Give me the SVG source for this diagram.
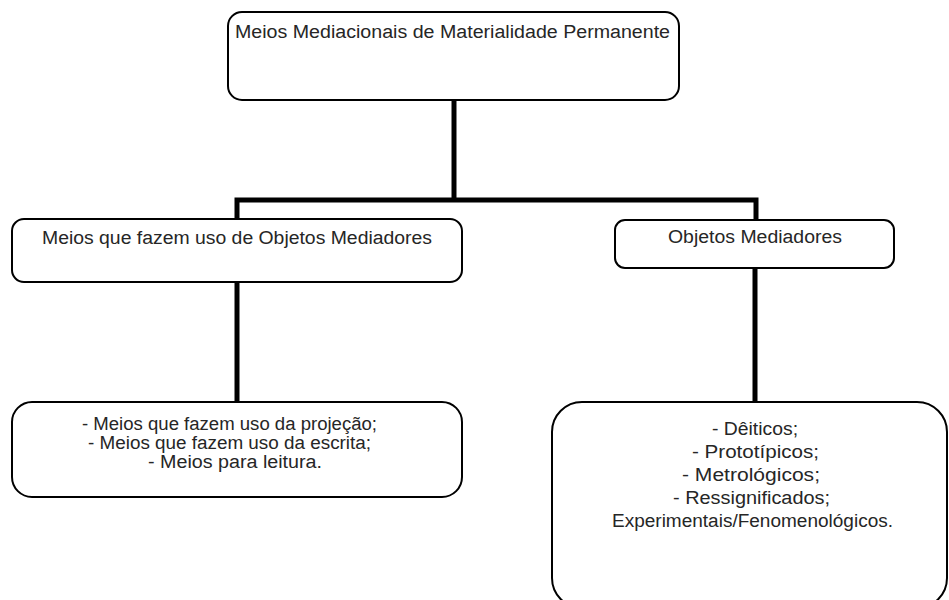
<svg xmlns="http://www.w3.org/2000/svg" width="949" height="600" viewBox="0 0 949 600">
<style>
.box{fill:#fff;stroke:#000;stroke-width:2}
.con{fill:none;stroke:#000;stroke-width:5;stroke-linecap:butt;stroke-linejoin:miter}
text{font-family:"Liberation Sans","DejaVu Sans",sans-serif;font-size:18px;fill:#262626}
</style>
<rect width="949" height="600" fill="#fff"/>
<g id="connectors">
<polyline class="con" points="454,100 454,200"/>
<polyline class="con" points="237,220 237,200 756,200 756,220"/>
<polyline class="con" points="237,282 237,402"/>
<polyline class="con" points="755,268 755,402"/>
</g>
<g id="n-root">
<rect class="box" x="228" y="12" width="451" height="88" rx="14"/>
<text x="235" y="38" textLength="435" lengthAdjust="spacingAndGlyphs">Meios Mediacionais de Materialidade Permanente</text>
</g>
<g id="n-left">
<rect class="box" x="12" y="219" width="450" height="63" rx="12"/>
<text x="42" y="244" textLength="390" lengthAdjust="spacingAndGlyphs">Meios que fazem uso de Objetos Mediadores</text>
</g>
<g id="n-right">
<rect class="box" x="615" y="220" width="279" height="48" rx="10"/>
<text x="668" y="243" textLength="174" lengthAdjust="spacingAndGlyphs">Objetos Mediadores</text>
</g>
<g id="n-left-list">
<rect class="box" x="12" y="402" width="450" height="95" rx="20"/>
<text x="82" y="430" textLength="295" lengthAdjust="spacingAndGlyphs">- Meios que fazem uso da projeção;</text>
<text x="88" y="449" textLength="283" lengthAdjust="spacingAndGlyphs">- Meios que fazem uso da escrita;</text>
<text x="148" y="468" textLength="174" lengthAdjust="spacingAndGlyphs">- Meios para leitura.</text>
</g>
<g id="n-right-list">
<rect class="box" x="552" y="402" width="395" height="206" rx="30"/>
<text x="712" y="435" textLength="86" lengthAdjust="spacingAndGlyphs">- Dêiticos;</text>
<text x="692" y="458" textLength="127" lengthAdjust="spacingAndGlyphs">- Prototípicos;</text>
<text x="682" y="481" textLength="138" lengthAdjust="spacingAndGlyphs">- Metrológicos;</text>
<text x="673" y="504" textLength="157" lengthAdjust="spacingAndGlyphs">- Ressignificados;</text>
<text x="612" y="527" textLength="281" lengthAdjust="spacingAndGlyphs">Experimentais/Fenomenológicos.</text>
</g>
</svg>
